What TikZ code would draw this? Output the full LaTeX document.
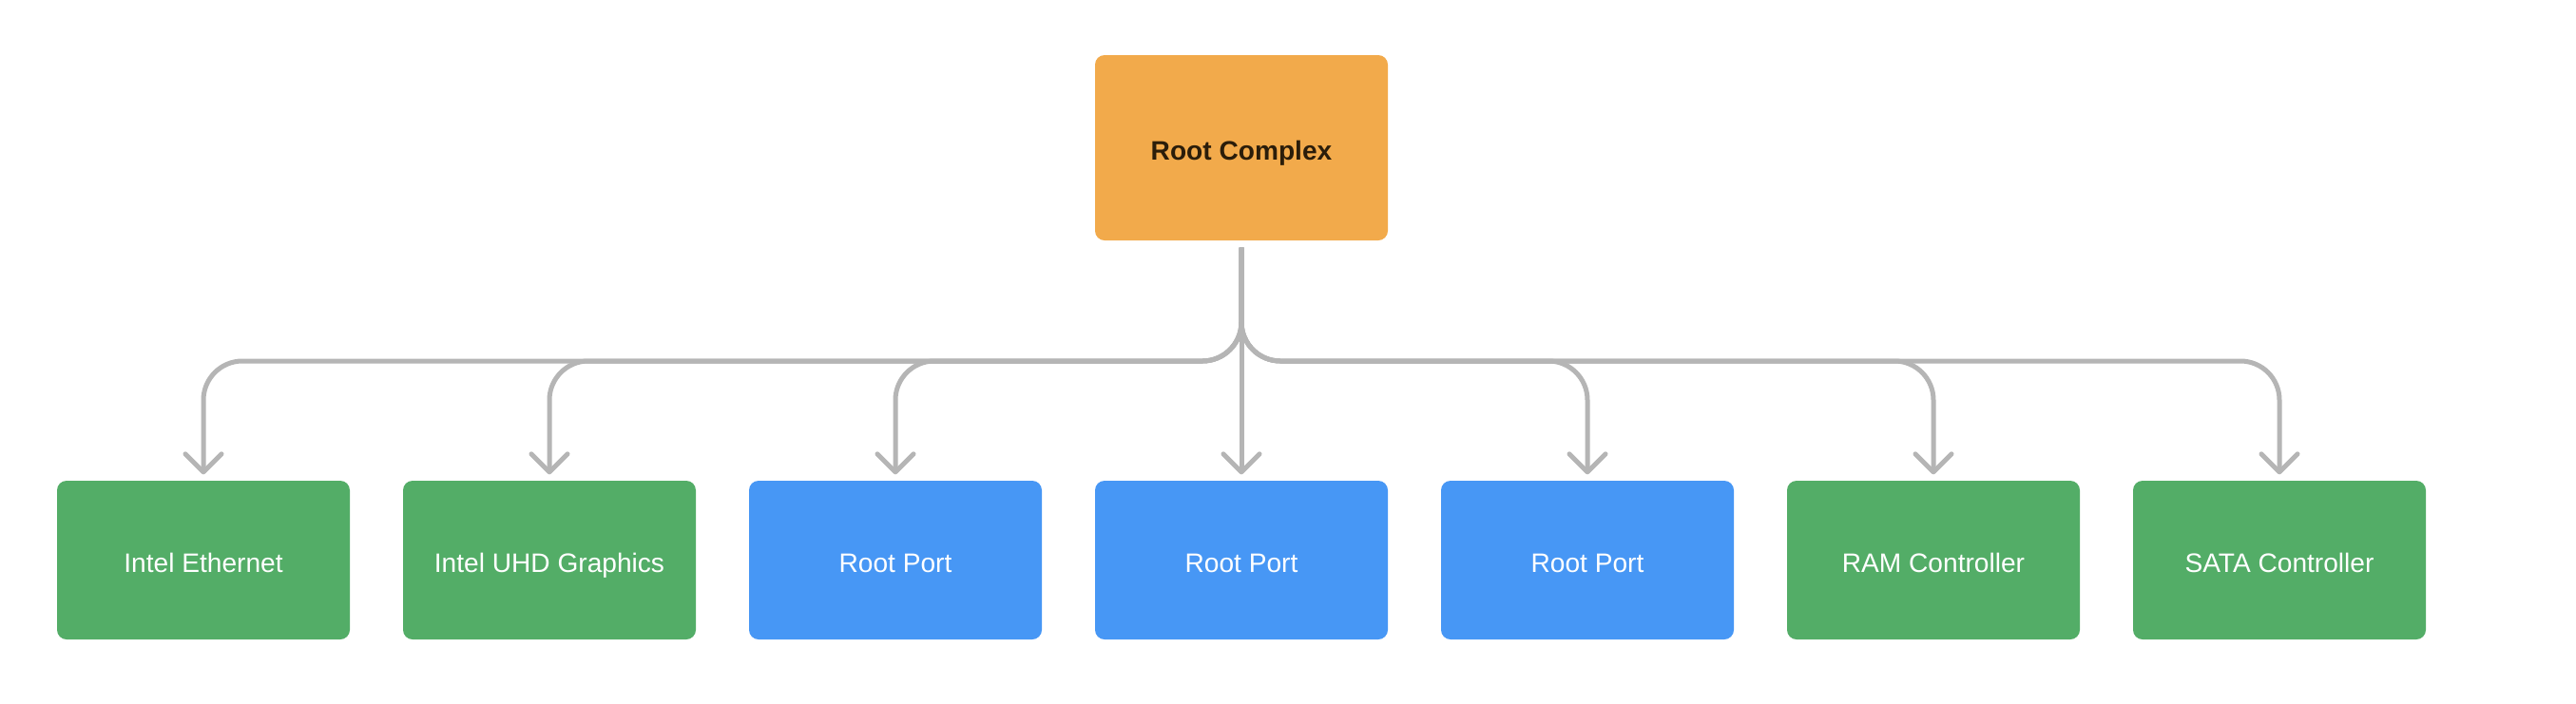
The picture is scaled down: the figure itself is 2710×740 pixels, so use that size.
\documentclass[tikz,border=0pt]{standalone}
\usepackage{fontspec}
\setmainfont{Liberation Sans}
\usetikzlibrary{arrows.meta}
\definecolor{rootorange}{HTML}{F2AA4B}
\definecolor{devgreen}{HTML}{53AD67}
\definecolor{portblue}{HTML}{4797F5}
\definecolor{linkgray}{HTML}{B5B5B5}
\definecolor{rootink}{HTML}{2B1D0A}
\begin{document}
\begin{tikzpicture}[x=0.1mm,y=-0.1mm,
  box/.style={rounded corners=1mm,minimum width=30.8mm,minimum height=16.7mm,
    inner sep=0pt,text=white,text height=0.716em,text depth=0pt,
    font=\fontsize{8}{10}\selectfont},
  link/.style={draw=linkgray,line width=0.5mm,rounded corners=4.1mm,
    shorten <=0.7mm,shorten >=0.6mm,
    -{Straight Barb[length=1.9mm,width=3.8mm,round]}}]
  \fill[white] (0,0) rectangle (2710,740);
  \useasboundingbox (0,0) rectangle (2710,740);
  % top node
  \node[box,fill=rootorange,minimum height=19.5mm,text=rootink,
        font=\fontsize{8}{10}\selectfont\bfseries] (root) at (1306,155.5) {Root Complex};
  \coordinate (bus) at (1306,380);
  % children
  \foreach \name/\lbl/\col [count=\i from 0] in
     {eth/Intel Ethernet/devgreen, uhd/Intel UHD Graphics/devgreen,
      rpa/Root Port/portblue, rpb/Root Port/portblue, rpc/Root Port/portblue,
      ram/RAM Controller/devgreen, sata/SATA Controller/devgreen}
    \node[box,fill=\col] (\name) at ({214+364*\i},589.5) {\lbl};
  % connectors
  \draw[link] (root.south) -- (rpb.north);
  \foreach \name in {eth,uhd,rpa,rpc,ram,sata}
    \draw[link] (root.south) -- (bus) -| (\name.north);
\end{tikzpicture}
\end{document}
